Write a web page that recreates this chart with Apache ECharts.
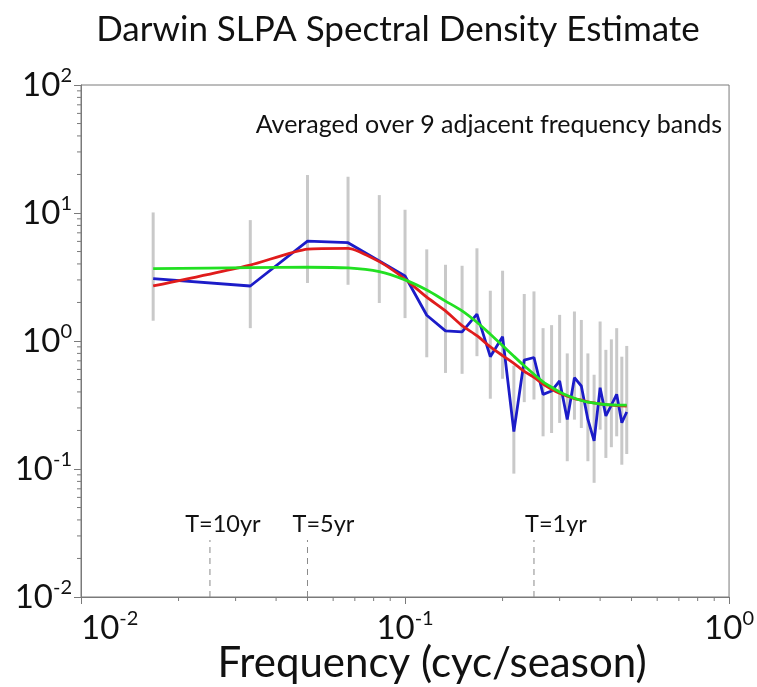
<!DOCTYPE html>
<html>
<head>
<meta charset="utf-8">
<script src="https://cdn.jsdelivr.net/npm/echarts@6/dist/echarts.min.js"></script>
<style>
html,body{margin:0;padding:0;background:#fff;}
#chart{width:757px;height:687px;}
</style>
</head>
<body>
<div id="chart"></div>
<script>
// Frequencies (cyc/season)
const freq = [0.0167, 0.0333, 0.05, 0.0667, 0.0833, 0.1, 0.1167, 0.1333, 0.15, 0.1667,
  0.1833, 0.2, 0.2167, 0.2333, 0.25, 0.2667, 0.2833, 0.3, 0.3167, 0.3333,
  0.35, 0.3667, 0.3833, 0.4, 0.4167, 0.4333, 0.45, 0.4667, 0.4833];
// Band-averaged periodogram (blue)
const spectrum = [3.07, 2.69, 6.04, 5.86, 4.22, 3.22, 1.59, 1.2, 1.18, 1.62,
  0.754, 1.08, 0.196, 0.71, 0.743, 0.383, 0.407, 0.487, 0.244, 0.517,
  0.445, 0.244, 0.166, 0.432, 0.26, 0.315, 0.383, 0.23, 0.279];
// Confidence interval limits (gray bars)
const upper = [10.1, 8.8, 19.8, 19.2, 13.8, 10.6, 5.2, 3.94, 3.87, 5.3,
  2.47, 3.54, 0.643, 2.33, 2.44, 1.26, 1.33, 1.6, 0.8, 1.7,
  1.46, 0.8, 0.545, 1.42, 0.853, 1.03, 1.26, 0.754, 0.915];
const lower = [1.44, 1.26, 2.84, 2.75, 1.98, 1.51, 0.746, 0.563, 0.554, 0.761,
  0.354, 0.507, 0.092, 0.333, 0.349, 0.18, 0.191, 0.229, 0.115, 0.243,
  0.209, 0.115, 0.078, 0.203, 0.122, 0.148, 0.18, 0.108, 0.131];
// Red fit
const redFit = [2.69, 3.92, 5.23, 5.3, 4.17, 3.05, 2.2, 1.72, 1.32, 1.1,
  0.9, 0.77, 0.67, 0.58, 0.52, 0.46, 0.42, 0.39, 0.37, 0.355,
  0.345, 0.335, 0.328, 0.322, 0.318, 0.315, 0.313, 0.311, 0.31];
// Green fit
const greenFit = [3.67, 3.74, 3.77, 3.72, 3.48, 3.0, 2.5, 2.05, 1.72, 1.4,
  1.13, 0.92, 0.76, 0.64, 0.55, 0.48, 0.435, 0.40, 0.375, 0.357,
  0.343, 0.333, 0.327, 0.322, 0.319, 0.317, 0.316, 0.315, 0.315];
// Period markers
const periodFreq = [0.025, 0.05, 0.25];
const periodLabels = ['T=10yr', 'T=5yr', 'T=1yr'];
// Minor tick positions
const xMinorTicks = [0.02, 0.03, 0.04, 0.05, 0.06, 0.07, 0.08, 0.09, 0.2, 0.3, 0.4, 0.5, 0.6, 0.7, 0.8, 0.9];
const yMinorTicks = [0.02, 0.03, 0.04, 0.05, 0.06, 0.07, 0.08, 0.09,
  0.2, 0.3, 0.4, 0.5, 0.6, 0.7, 0.8, 0.9,
  2, 3, 4, 5, 6, 7, 8, 9,
  20, 30, 40, 50, 60, 70, 80, 90];

const FONT = 'Lato';
const AXIS_COLOR = '#7a7a7a';
const TXT = '#111';

function pow10Label(v) {
  const e = Math.round(Math.log10(v));
  return '{b|10}{s|' + e + '}';
}
const richStyle = {
  b: { fontSize: 33, lineHeight: 38, fontFamily: FONT, color: TXT },
  s: { fontSize: 20, lineHeight: 20, verticalAlign: 'top', fontFamily: FONT, color: TXT }
};

const chart = echarts.init(document.getElementById('chart'), null, { renderer: 'canvas' });

function txt(text, x, y, size, align) {
  return { type: 'text', x: x, y: y, z: 10,
    style: { text: text, fontSize: size, fontFamily: FONT, fill: TXT,
      align: align, verticalAlign: 'middle', textAlign: align, textVerticalAlign: 'middle' } };
}

const option = {
  backgroundColor: '#fff',
  animation: false,
  graphic: [
    txt('Darwin SLPA Spectral Density Estimate', 398, 30, 35, 'center'),
    txt('Averaged over 9 adjacent frequency bands', 722, 125, 25, 'right'),
    txt('Frequency (cyc/season)', 432, 663, 42, 'center')
  ],
  grid: { left: 81, right: 26, top: 85, bottom: 90, show: true, borderColor: AXIS_COLOR, borderWidth: 1 },
  xAxis: {
    type: 'log', logBase: 10, min: 0.01, max: 1, splitNumber: 2,
    axisLine: { lineStyle: { color: AXIS_COLOR, width: 1 } },
    axisTick: { length: 7, lineStyle: { color: AXIS_COLOR } },
    axisLabel: { margin: 12, formatter: pow10Label, rich: richStyle, alignMinLabel: 'left' },
    splitLine: { show: false }
  },
  yAxis: {
    type: 'log', logBase: 10, min: 0.01, max: 100, splitNumber: 4,
    axisLine: { lineStyle: { color: AXIS_COLOR, width: 1 } },
    axisTick: { length: 7, lineStyle: { color: AXIS_COLOR } },
    axisLabel: { margin: 9, formatter: pow10Label, rich: richStyle },
    splitLine: { show: false }
  },
  series: [
    {
      type: 'custom', name: 'ci', z: 2,
      data: freq.map((f, i) => [f, lower[i], upper[i]]),
      renderItem: function (params, api) {
        const p1 = api.coord([api.value(0), api.value(1)]);
        const p2 = api.coord([api.value(0), api.value(2)]);
        return { type: 'line', shape: { x1: p1[0], y1: p1[1], x2: p2[0], y2: p2[1] },
          style: { stroke: '#c9c9c9', lineWidth: 3 } };
      }
    },
    {
      type: 'line', name: 'spectrum', z: 3, data: freq.map((f, i) => [f, spectrum[i]]),
      symbol: 'none', lineStyle: { color: '#1c1cc8', width: 2.8 }
    },
    {
      type: 'line', name: 'red', z: 4, data: freq.map((f, i) => [f, redFit[i]]),
      symbol: 'none', smooth: 0.2, lineStyle: { color: '#e01c1c', width: 2.8 }
    },
    {
      type: 'line', name: 'green', z: 5, data: freq.map((f, i) => [f, greenFit[i]]),
      symbol: 'none', smooth: 0.3, lineStyle: { color: '#22e022', width: 2.8 }
    },
    {
      type: 'custom', name: 'periods', z: 6,
      data: periodFreq.map((f, i) => [f, 0.01, i]),
      renderItem: function (params, api) {
        const p = api.coord([api.value(0), api.value(1)]);
        const idx = api.value(2);
        const offsets = [13, 16, 22];
        const topY = p[1] - 57;
        return { type: 'group', children: [
          { type: 'line', shape: { x1: p[0], y1: p[1], x2: p[0], y2: topY },
            style: { stroke: '#8a8a8a', lineWidth: 1, lineDash: [6, 5] } },
          { type: 'text', x: p[0] + offsets[idx], y: topY - 16,
            style: { text: periodLabels[idx], fontSize: 23.5, fontFamily: FONT, fill: TXT,
              align: 'center', verticalAlign: 'middle', textAlign: 'center', textVerticalAlign: 'middle' } }
        ] };
      }
    },
    {
      type: 'custom', name: 'xminor', z: 6,
      data: xMinorTicks.map(v => [v, 0.01]),
      renderItem: function (params, api) {
        const p = api.coord([api.value(0), api.value(1)]);
        return { type: 'line', shape: { x1: p[0], y1: p[1], x2: p[0], y2: p[1] + 4 },
          style: { stroke: AXIS_COLOR, lineWidth: 1 } };
      }
    },
    {
      type: 'custom', name: 'yminor', z: 6,
      data: yMinorTicks.map(v => [0.01, v]),
      renderItem: function (params, api) {
        const p = api.coord([api.value(0), api.value(1)]);
        return { type: 'line', shape: { x1: p[0], y1: p[1], x2: p[0] - 4, y2: p[1] },
          style: { stroke: AXIS_COLOR, lineWidth: 1 } };
      }
    }
  ]
};
chart.setOption(option);
</script>
</body>
</html>
